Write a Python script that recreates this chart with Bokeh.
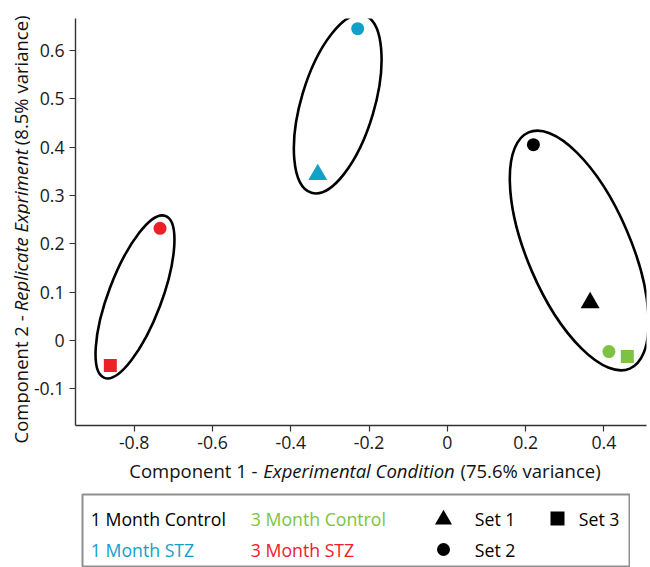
import os
import subprocess
import math
from bokeh.plotting import figure
from bokeh.models import Range1d, FixedTicker, Spacer, ColumnDataSource
from bokeh.layouts import column, row
from bokeh.embed import file_html
from bokeh.resources import INLINE
from bokeh.core.properties import value

# ---------------- data ----------------
group_names = ["1 Month Control", "1 Month STZ", "3 Month Control", "3 Month STZ"]
group_colors = ["#000000", "#12a0c8", "#7dc243", "#ed2027"]
set_names = ["Set 1", "Set 2", "Set 3"]
set_markers = ["triangle", "circle", "square"]
set_sizes = [19, 13, 13]

pt_group = ["1 Month Control", "1 Month Control", "1 Month STZ", "1 Month STZ",
            "3 Month Control", "3 Month Control", "3 Month STZ", "3 Month STZ"]
pt_set = ["Set 1", "Set 2", "Set 1", "Set 2", "Set 2", "Set 3", "Set 2", "Set 3"]
pc1 = [0.365, 0.220, -0.331, -0.229, 0.413, 0.460, -0.734, -0.861]
pc2 = [0.078, 0.405, 0.343, 0.645, -0.023, -0.033, 0.232, -0.052]

# grouping ellipses (centre, width, height in data units, tilt in degrees)
ell_x = [-0.798, -0.280, 0.337]
ell_y = [0.090, 0.489, 0.186]
ell_w = [0.136, 0.187, 0.264]
ell_h = [0.358, 0.383, 0.532]
ell_angle = [-20.7, -16.5, 23.2]

x_ticks = [-0.8, -0.6, -0.4, -0.2, 0, 0.2, 0.4]
x_tick_labels = ["-0.8", "-0.6", "-0.4", "-0.2", "0", "0.2", "0.4"]
y_ticks = [-0.1, 0, 0.1, 0.2, 0.3, 0.4, 0.5, 0.6]
y_tick_labels = ["-0.1", "0", "0.1", "0.2", "0.3", "0.4", "0.5", "0.6"]

# axis titles: roman part, italic part, roman part
x_title = ["Component 1 -", "Experimental Condition", "(75.6% variance)"]
y_title = ["Component 2 -", "Replicate Expriment", "(8.5% variance)"]

XMIN, XMAX = -0.950, 0.509
YMIN, YMAX = -0.176, 0.666

FONT = "Open Sans"

# ---------------- text measuring ----------------
_font_path = None
_font_done = False


def font_file():
    global _font_path, _font_done
    if _font_done:
        return _font_path
    _font_done = True
    try:
        out = subprocess.run(["fc-match", "-f", "%{file}", FONT + ":regular"],
                             capture_output=True, text=True, timeout=5).stdout.strip()
        if out and os.path.exists(out):
            _font_path = out
    except Exception:
        _font_path = None
    return _font_path


def text_width(txt, size):
    path = font_file()
    if path:
        try:
            from PIL import ImageFont
            f = ImageFont.truetype(path, int(round(size * 4)))
            return f.getlength(txt) / 4.0
        except Exception:
            pass
    return 0.56 * size * len(txt)


def fit_size(txt, target, base=17.0):
    w = text_width(txt, base)
    s = base * target / w if w > 0 else base
    return max(13.0, min(19.5, s))


tick_size = fit_size("1 Month Control", 135.0)
title_size = fit_size(" ".join(x_title), 480.0)

# ---------------- page geometry ----------------
PAGE_W = 650
YT_W = 30            # strip holding the vertical title
MAIN_H = 456
XT_H = 37            # strip holding the horizontal title
ML, MR, MT, MB = 43, 4, 18, 31
TOTAL_H = MAIN_H + XT_H

# ---------------- main figure ----------------
p = figure(width=PAGE_W - YT_W, height=MAIN_H, output_backend="svg", toolbar_location=None,
           x_range=Range1d(XMIN, XMAX), y_range=Range1d(YMIN, YMAX),
           min_border_left=ML, min_border_right=MR, min_border_top=MT, min_border_bottom=MB)
p.outline_line_color = None
p.xgrid.visible = False
p.ygrid.visible = False

for ax, ticks, labels in ((p.xaxis[0], x_ticks, x_tick_labels), (p.yaxis[0], y_ticks, y_tick_labels)):
    ax.ticker = FixedTicker(ticks=ticks)
    ax.major_label_overrides = {t: l for t, l in zip(ticks, labels)}
    ax.minor_tick_line_color = None
    ax.major_tick_in = 0
    ax.major_tick_out = 6
    ax.major_tick_line_color = "#333333"
    ax.major_tick_line_width = 1.2
    ax.axis_line_color = "#333333"
    ax.axis_line_width = 1.4
    ax.major_label_text_font = FONT
    ax.major_label_text_font_size = f"{tick_size:.1f}px"
    ax.major_label_text_color = "#1a1a1a"
    ax.major_label_standoff = 5
p.xaxis[0].major_label_standoff = 4

esrc = ColumnDataSource(dict(x=ell_x, y=ell_y, w=ell_w, h=ell_h, a=ell_angle))
p.ellipse(x="x", y="y", width="w", height="h", angle="a", angle_units="deg",
          source=esrc, fill_color=None, line_color="black", line_width=2.6)

cmap = dict(zip(group_names, group_colors))
mmap = dict(zip(set_names, set_markers))
smap = dict(zip(set_names, set_sizes))
psrc = ColumnDataSource(dict(
    x=pc1, y=pc2,
    color=[cmap[g] for g in pt_group],
    marker=[mmap[s] for s in pt_set],
    size=[smap[s] for s in pt_set],
))
p.scatter(x="x", y="y", marker="marker", size="size", fill_color="color",
          line_color=None, source=psrc)

fs = f"{title_size:.1f}px"
space = text_width(" ", title_size)
TCOL = "#111111"
common = dict(text_font=value(FONT), text_font_size=fs, text_baseline="alphabetic", text_color=TCOL)

# ---------------- x title strip (page coordinates, frame aligned with main frame) ----------------
FL, FR = YT_W + ML, PAGE_W - MR
xt = figure(width=PAGE_W - YT_W, height=XT_H, output_backend="svg", toolbar_location=None,
            x_range=Range1d(FL, FR), y_range=Range1d(TOTAL_H, MAIN_H),
            min_border_left=ML, min_border_right=MR, min_border_top=0, min_border_bottom=0)
xt.axis.visible = False
xt.grid.visible = False
xt.outline_line_color = None
XS, XE, XBASE = 127, 600, 470
w1 = text_width(x_title[0], title_size)
w3 = text_width(x_title[2], title_size)
mid = (XS + w1 + space + XE - w3 - space) / 2.0
xt.text(x=[XS], y=[XBASE], text=[x_title[0]], text_align="left", **common)
xt.text(x=[mid], y=[XBASE], text=[x_title[1]], text_align="center", text_font_style="italic", **common)
xt.text(x=[XE], y=[XBASE], text=[x_title[2]], text_align="right", **common)

# ---------------- y title strip ----------------
yt = figure(width=YT_W, height=TOTAL_H, output_backend="svg", toolbar_location=None,
            x_range=Range1d(0, YT_W), y_range=Range1d(0, TOTAL_H), min_border=0)
yt.axis.visible = False
yt.grid.visible = False
yt.outline_line_color = None
YS, YE, YBASE = 443, 15, 20        # page y of start (bottom) / end (top), baseline x
v1 = text_width(y_title[0], title_size)
v3 = text_width(y_title[2], title_size)
vmid = (YS - v1 - space + YE + v3 + space) / 2.0
rot = dict(angle=math.pi / 2, **common)
yt.text(x=[YBASE], y=[TOTAL_H - YS], text=[y_title[0]], text_align="left", **rot)
yt.text(x=[YBASE], y=[TOTAL_H - vmid], text=[y_title[1]], text_align="center",
        text_font_style="italic", **rot)
yt.text(x=[YBASE], y=[TOTAL_H - YE], text=[y_title[2]], text_align="right", **rot)

# ---------------- legend panel ----------------
LEG_LEFT = 82
LW, LH = 549, 567 - TOTAL_H
lf = figure(width=LW, height=LH, output_backend="svg", toolbar_location=None,
            x_range=Range1d(0, LW - 2), y_range=Range1d(LH - 2, 0), min_border=1)
lf.axis.visible = False
lf.grid.visible = False
lf.outline_line_color = "#8f8f8f"
lf.outline_line_width = 2

leg_text_x = [8.3, 8.3, 168.3, 168.3]
leg_text_y = [24, 55, 24, 55]
lf.text(x=leg_text_x, y=leg_text_y, text=group_names, text_color=group_colors,
        text_font=value(FONT), text_font_size=f"{tick_size:.1f}px",
        text_baseline="middle", text_align="left")

set_mark_x = [361, 361, 475]
set_mark_y = [25, 55, 24]
set_leg_sizes = [17, 13, 14]
lf.scatter(x=set_mark_x, y=set_mark_y, marker=set_markers, size=set_leg_sizes,
           fill_color="black", line_color=None)
set_text_x = [392.3, 392.3, 496.3]
lf.text(x=set_text_x, y=[24, 55, 24], text=set_names, text_color="black",
        text_font=value(FONT), text_font_size=f"{tick_size:.1f}px",
        text_baseline="middle", text_align="left")

layout = column(
    row(yt, column(p, xt)),
    row(Spacer(width=LEG_LEFT - 1, height=LH), lf),
)

open("out.html", "w").write(file_html(layout, INLINE))
